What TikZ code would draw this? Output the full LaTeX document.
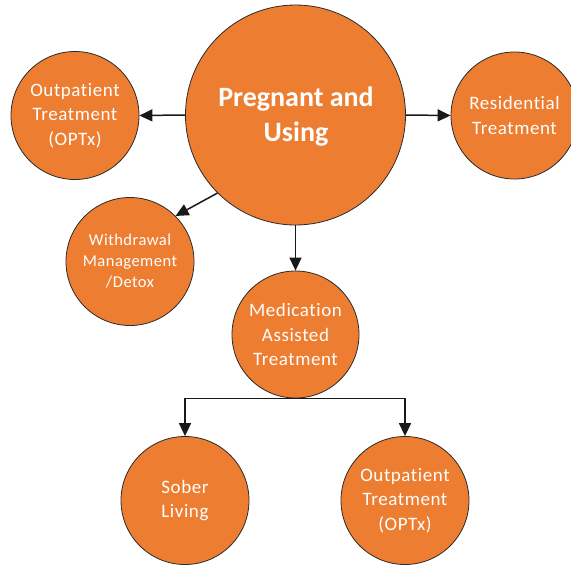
\documentclass[tikz,border=0pt]{standalone}
\usepackage{fontspec}
\setmainfont{Carlito}[Ligatures={NoCommon},LetterSpace=3]
\usetikzlibrary{arrows.meta}
\definecolor{orng}{HTML}{ED7D31}
\definecolor{edge}{HTML}{2B2B2B}
\tikzset{
  bubble/.style={circle, draw=edge, line width=0.8pt, fill=orng, text=white,
    inner sep=0pt, align=center},
  smalltxt/.style={font=\fontsize{19}{24.5}\selectfont},
  tinytxt/.style={font=\fontsize{16.5}{21}\selectfont},
  bigtxt/.style={font=\fontsize{28}{35}\selectfont\bfseries\addfontfeature{LetterSpace=0}},
  link/.style={draw=black!90, line width=1.5pt,
    -{Triangle[length=13pt,width=12pt]}}
}
\begin{document}
\begin{tikzpicture}[x=1pt,y=-1pt]
\useasboundingbox (0,0) rectangle (571,566);
\begin{scope}
\clip (0,0) rectangle (571,566);
\node[bubble, minimum size=220pt] (big) at (295.5,115) {};
\node[text=white, bigtxt, align=center] (bigtext) at (296,117) {Pregnant and\\Using};
\node[bubble, smalltxt, minimum size=128pt] (op1) at (75,115.5) {Outpatient\\Treatment\\(OPTx)};
\node[bubble, smalltxt, minimum size=127pt] (res) at (514.5,115.5) {Residential\\Treatment};
\node[bubble, tinytxt, minimum size=128pt] (wd) at (130,261.5) {Withdrawal\\Management\\/Detox};
\node[bubble, smalltxt, minimum size=127pt] (med) at (295.5,334.5) {Medication\\Assisted\\Treatment};
\node[bubble, smalltxt, minimum size=128pt] (sober) at (185,500.5) {Sober\\Living};
\node[bubble, smalltxt, minimum size=128pt] (op2) at (405,500.5) {Outpatient\\Treatment\\(OPTx)};
\draw[link] (big.west) -- (op1.east);
\draw[link] (big.east) -- (res.west);
\draw[link] (big.225) -- (wd.45);
\draw[link] (big.south) -- (med.north);
\draw[link] (med.south) -| (sober.north);
\draw[link] (med.south) -| (op2.north);
\end{scope}
\end{tikzpicture}
\end{document}
